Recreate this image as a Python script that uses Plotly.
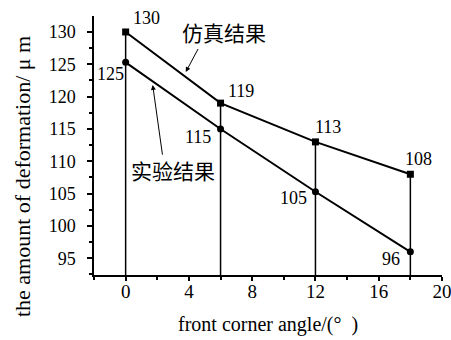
import plotly.graph_objects as go

angles = [0, 6, 12, 18]
sim_values = [130, 119, 113, 108]
exp_values = [125.3, 115, 105.3, 96]
sim_labels = ["130", "119", "113", "108"]
exp_labels = ["125", "115", "105", "96"]
sim_name = "仿真结果"
exp_name = "实验结果"
x_ticks = [0, 4, 8, 12, 16, 20]
y_ticks = [95, 100, 105, 110, 115, 120, 125, 130]

X_RANGE = [-2, 20]
Y_RANGE = [92.42, 132.47]

SERIF = "Liberation Serif, Times New Roman, serif"
CJK = "Noto Sans CJK SC"

fig = go.Figure()

# drop lines from the upper (simulation) point to the x axis
dx, dy = [], []
for a, s in zip(angles, sim_values):
    dx += [a, a, None]
    dy += [s, Y_RANGE[0], None]
fig.add_trace(go.Scatter(x=dx, y=dy, mode="lines",
                         line=dict(color="black", width=1.5),
                         hoverinfo="skip", showlegend=False))

fig.add_trace(go.Scatter(x=angles, y=sim_values, mode="lines+markers",
                         name=sim_name,
                         line=dict(color="black", width=2),
                         marker=dict(symbol="square", size=7, color="black"),
                         showlegend=False))
fig.add_trace(go.Scatter(x=angles, y=exp_values, mode="lines+markers",
                         name=exp_name,
                         line=dict(color="black", width=2),
                         marker=dict(symbol="circle", size=7, color="black"),
                         showlegend=False))

# value labels
sim_shift = [(21, 14), (20, 12), (13, 15), (8, 15)]
exp_shift = [(-15, -12), (-23, -8), (-22, -6), (-19, -7)]
for a, v, t, (sx, sy) in zip(angles, sim_values, sim_labels, sim_shift):
    fig.add_annotation(x=a, y=v, text=t, showarrow=False, xshift=sx, yshift=sy,
                       xanchor="center", yanchor="middle",
                       font=dict(family=SERIF, size=18, color="black"))
for a, v, t, (sx, sy) in zip(angles, exp_values, exp_labels, exp_shift):
    fig.add_annotation(x=a, y=v, text=t, showarrow=False, xshift=sx, yshift=sy,
                       xanchor="center", yanchor="middle",
                       font=dict(family=SERIF, size=18, color="black"))

# series name labels with arrows
fig.add_annotation(x=6.24, y=130.0, text=sim_name, showarrow=False,
                   xanchor="center", yanchor="middle",
                   font=dict(family=CJK, size=21, color="black"))
fig.add_annotation(x=3.80, y=123.8, ax=4.63, ay=127.6, axref="x", ayref="y",
                   text="", showarrow=True, arrowhead=2, arrowsize=1,
                   arrowwidth=1, arrowcolor="black")
fig.add_annotation(x=3.01, y=108.7, text=exp_name, showarrow=False,
                   xanchor="center", yanchor="middle",
                   font=dict(family=CJK, size=21, color="black"))
fig.add_annotation(x=1.71, y=121.8, ax=2.34, ay=110.8, axref="x", ayref="y",
                   text="", showarrow=True, arrowhead=2, arrowsize=1,
                   arrowwidth=1, arrowcolor="black")

# axis titles
fig.add_annotation(xref="paper", yref="paper", x=-0.207, y=0.382,
                   xanchor="center", yanchor="middle",
                   text="the amount of deformation/ μ m", textangle=-90,
                   showarrow=False,
                   font=dict(family=SERIF, size=22, color="black"))
fig.add_annotation(xref="paper", yref="paper", x=0.499, y=-0.193,
                   xanchor="center", yanchor="middle",
                   text="front corner angle/(°  )", showarrow=False,
                   font=dict(family=SERIF, size=20, color="black"))

fig.update_xaxes(range=X_RANGE, tickvals=x_ticks, ticktext=[str(t) for t in x_ticks],
                 showgrid=False, zeroline=False, showline=True,
                 linecolor="black", linewidth=1.5,
                 ticks="outside", ticklen=4, tickwidth=1.5, tickcolor="black",
                 ticklabeloverflow="allow", ticklabelstandoff=-6,
                 minor=dict(dtick=2, tick0=0, ticks="outside", ticklen=3,
                            tickwidth=1.5, tickcolor="black", showgrid=False),
                 tickfont=dict(family=SERIF, size=19, color="black"))
fig.update_yaxes(range=Y_RANGE, tickvals=y_ticks, ticktext=[str(t) for t in y_ticks],
                 showgrid=False, zeroline=False, showline=True,
                 linecolor="black", linewidth=1.5,
                 ticks="outside", ticklen=5, tickwidth=1.5, tickcolor="black",
                 ticklabelstandoff=8,
                 minor=dict(dtick=2.5, tick0=0, ticks="outside", ticklen=3,
                            tickwidth=1.5, tickcolor="black", showgrid=False),
                 tickfont=dict(family=SERIF, size=18, color="black"))

fig.update_layout(width=451, height=340,
                  margin=dict(l=94, r=9, t=16, b=65, autoexpand=False),
                  plot_bgcolor="white", paper_bgcolor="white",
                  showlegend=False)

# remove the default 8px page margin so the figure fills the window exactly
fig.write_html("out.html",
               config={"displayModeBar": False},
               post_script="document.body.style.margin='0';"
                           "document.body.style.overflow='hidden';")
